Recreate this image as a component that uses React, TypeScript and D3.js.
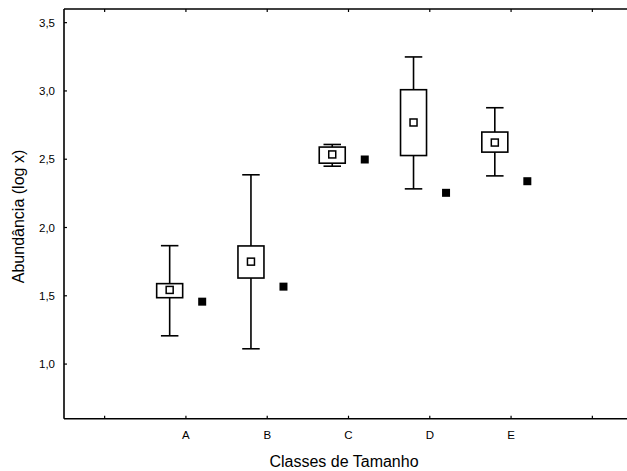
import React from 'react';
import { scaleLinear, range } from 'd3';

// size classes and their summary values
const categories = ['A', 'B', 'C', 'D', 'E'];
const xTickLabels = ['', 'A', 'B', 'C', 'D', 'E', ''];
const means = [1.543, 1.75, 2.535, 2.769, 2.622];
const boxLow = [1.486, 1.63, 2.471, 2.527, 2.552];
const boxHigh = [1.589, 1.865, 2.589, 3.009, 2.699];
const whiskerLow = [1.207, 1.112, 2.449, 2.283, 2.378];
const whiskerHigh = [1.867, 2.386, 2.608, 3.249, 2.877];
const observed = [1.457, 1.567, 2.498, 2.254, 2.339];
const yTicks = [1.0, 1.5, 2.0, 2.5, 3.0, 3.5];

const W = 627;
const H = 471;
const left = 64;
const top = 9;
const bottom = 418.7;
const right = 633;

export default function App() {
  const x = scaleLinear().domain([-0.5, 6.5]).range([left, right]);
  const y = scaleLinear().domain([0.6, 3.6]).range([bottom, top]);
  const step = x(1) - x(0);
  const boxW = 26;
  const capW = 17.5;
  const font = 'Liberation Sans, Arial, sans-serif';
  const sw = 1.6;

  return (
    <div style={{ position: 'absolute', left: 0, top: 0 }}>
      <svg width={W} height={H} style={{ display: 'block', background: '#fff' }}>
        {/* frame */}
        <line x1={left} x2={W} y1={top} y2={top} stroke="#000" strokeWidth={sw} />
        <line x1={left} x2={W} y1={bottom} y2={bottom} stroke="#000" strokeWidth={sw} />
        <line x1={left} x2={left} y1={top} y2={bottom} stroke="#000" strokeWidth={sw} />

        {/* x ticks, top and bottom, pointing inward */}
        {range(xTickLabels.length).map(i => (
          <g key={'xt' + i}>
            <line x1={x(i)} x2={x(i)} y1={top} y2={top + 3} stroke="#000" strokeWidth={1.2} />
            <line x1={x(i)} x2={x(i)} y1={bottom} y2={bottom - 3} stroke="#000" strokeWidth={1.2} />
            <text x={x(i)} y={438.5} textAnchor="middle" fontFamily={font} fontSize={11.5}>
              {xTickLabels[i]}
            </text>
          </g>
        ))}

        {/* y ticks */}
        {yTicks.map(t => (
          <g key={'yt' + t}>
            <line x1={left} x2={left + 3} y1={y(t)} y2={y(t)} stroke="#000" strokeWidth={1.2} />
            <text x={55} y={y(t)} dy="0.35em" textAnchor="end" fontFamily={font} fontSize={11.5}>
              {t.toFixed(1).replace('.', ',')}
            </text>
          </g>
        ))}

        {/* boxes */}
        {categories.map((c, i) => {
          const cx = x(i + 1) - step * 0.2;
          const ox = x(i + 1) + step * 0.2;
          return (
            <g key={c}>
              <line x1={cx} x2={cx} y1={y(whiskerHigh[i])} y2={y(boxHigh[i])} stroke="#000" strokeWidth={sw} />
              <line x1={cx} x2={cx} y1={y(boxLow[i])} y2={y(whiskerLow[i])} stroke="#000" strokeWidth={sw} />
              <line x1={cx - capW / 2} x2={cx + capW / 2} y1={y(whiskerHigh[i])} y2={y(whiskerHigh[i])} stroke="#000" strokeWidth={sw} />
              <line x1={cx - capW / 2} x2={cx + capW / 2} y1={y(whiskerLow[i])} y2={y(whiskerLow[i])} stroke="#000" strokeWidth={sw} />
              <rect
                x={cx - boxW / 2}
                y={y(boxHigh[i])}
                width={boxW}
                height={y(boxLow[i]) - y(boxHigh[i])}
                fill="#fff"
                stroke="#000"
                strokeWidth={sw}
              />
              <rect x={cx - 3.5} y={y(means[i]) - 3.5} width={7} height={7} fill="#fff" stroke="#000" strokeWidth={1.5} />
              <rect x={ox - 4} y={y(observed[i]) - 4} width={8} height={8} fill="#000" />
            </g>
          );
        })}

        {/* axis titles */}
        <text x={344} y={467} textAnchor="middle" fontFamily={font} fontSize={16}>
          Classes de Tamanho
        </text>
        <text
          transform={`translate(24, ${216.5}) rotate(-90)`}
          textAnchor="middle"
          fontFamily={font}
          fontSize={16}
        >
          Abundância (log x)
        </text>
      </svg>
    </div>
  );
}
